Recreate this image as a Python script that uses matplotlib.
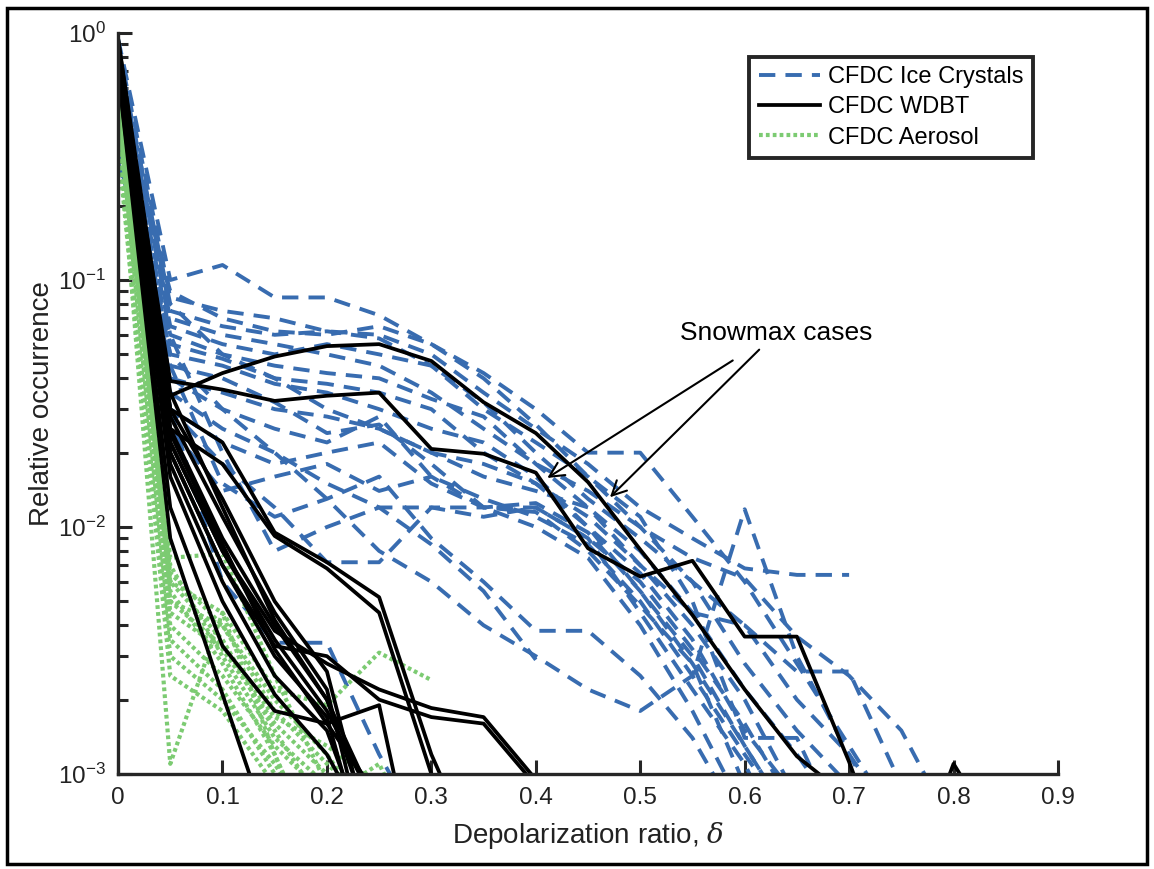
import matplotlib
matplotlib.use("Agg")
import matplotlib.pyplot as plt
from matplotlib.patches import Rectangle
from matplotlib.ticker import LogLocator, NullFormatter

plt.rcParams['font.family'] = ['Liberation Sans', 'DejaVu Sans']
plt.rcParams['mathtext.fontset'] = 'custom'
plt.rcParams['mathtext.rm'] = 'Liberation Sans'
plt.rcParams['mathtext.it'] = 'DejaVu Serif:italic'

# depolarization ratio bins (0, 0.05, 0.1, ...)
delta_bins = [0.0, 0.05, 0.1, 0.15, 0.2, 0.25, 0.3, 0.35, 0.4, 0.45,
              0.5, 0.55, 0.6, 0.65, 0.7, 0.75, 0.8, 0.85]

# CFDC ice crystal cases
ice_crystals = [
    [0.95, 0.1, 0.115, 0.085, 0.085, 0.072, 0.055, 0.042, 0.03, 0.02, 0.02, 0.011, 0.006, 0.0028, 0.0013, 0.0006],
    [0.9, 0.085, 0.075, 0.07, 0.062, 0.06, 0.05, 0.035, 0.025, 0.018, 0.012, 0.009, 0.0068, 0.0064, 0.0064],
    [0.85, 0.075, 0.065, 0.06, 0.062, 0.058, 0.045, 0.03, 0.022, 0.016, 0.01, 0.006, 0.004, 0.002, 0.0012, 0.0006],
    [0.8, 0.065, 0.055, 0.05, 0.055, 0.05, 0.045, 0.032, 0.02, 0.013, 0.009, 0.006, 0.0028, 0.0015, 0.0009],
    [0.7, 0.06, 0.05, 0.045, 0.042, 0.04, 0.033, 0.028, 0.018, 0.012, 0.008, 0.0045, 0.0022, 0.0012, 0.0006],
    [0.6, 0.05, 0.045, 0.038, 0.035, 0.03, 0.025, 0.022, 0.016, 0.01, 0.0065, 0.0035, 0.0015, 0.0008],
    [0.5, 0.045, 0.04, 0.032, 0.024, 0.026, 0.018, 0.012, 0.012, 0.009, 0.006, 0.0032, 0.0016, 0.0007],
    [0.45, 0.04, 0.03, 0.025, 0.022, 0.028, 0.016, 0.013, 0.011, 0.0085, 0.005, 0.0025, 0.0012, 0.0006],
    [0.4, 0.035, 0.025, 0.02, 0.015, 0.012, 0.012, 0.011, 0.012, 0.009, 0.0045, 0.0022, 0.0011, 0.0004],
    [0.35, 0.03, 0.018, 0.012, 0.0072, 0.0072, 0.012, 0.012, 0.0125, 0.0095, 0.0055, 0.003, 0.0013, 0.0006],
    [0.3, 0.06, 0.02, 0.008, 0.01, 0.012, 0.0085, 0.0055, 0.0029],
    [0.4, 0.045, 0.015, 0.011, 0.013, 0.016, 0.009, 0.006, 0.0038, 0.0038, 0.0025, 0.0014, 0.0006],
    [0.55, 0.03, 0.006, 0.0034, 0.0034, 0.0012, 0.0005],
    [0.5, 0.05, 0.03, 0.02, 0.013, 0.008, 0.006, 0.004, 0.003, 0.0022, 0.0018, 0.0025, 0.0118, 0.003, 0.0012, 0.0005],
    [0.75, 0.07, 0.06, 0.055, 0.05, 0.045, 0.035, 0.025, 0.018, 0.014, 0.01, 0.0075, 0.0062, 0.0036, 0.0025, 0.0015, 0.0006],
    [0.65, 0.055, 0.048, 0.04, 0.038, 0.035, 0.03, 0.02, 0.015, 0.011, 0.007, 0.0045, 0.004, 0.0026, 0.0026, 0.0009],
    [0.55, 0.09, 0.07, 0.062, 0.06, 0.065, 0.055, 0.04, 0.026, 0.016, 0.011, 0.005, 0.0014, 0.0014, 0.0005],
    [0.45, 0.04, 0.035, 0.03, 0.028, 0.025, 0.02, 0.016, 0.014, 0.012, 0.007, 0.004, 0.002, 0.0008],
    [0.6, 0.03, 0.022, 0.018, 0.02, 0.022, 0.015, 0.012, 0.0115, 0.008, 0.0048, 0.0028, 0.0009],
    [0.35, 0.025, 0.014, 0.016, 0.018, 0.014, 0.016, 0.012, 0.01, 0.0075, 0.004, 0.0018, 0.0007],
    [0.8, 0.08, 0.05, 0.04, 0.03, 0.025, 0.02, 0.018, 0.015, 0.01, 0.0055, 0.0028, 0.0013, 0.0006],
]

# CFDC warm/dry bath tests
wdbt = [
    [0.9, 0.034, 0.042, 0.049, 0.054, 0.055, 0.047, 0.032, 0.024, 0.0152, 0.0081, 0.0044, 0.0022, 0.00118, 0.0008],
    [0.8, 0.039, 0.036, 0.0324, 0.034, 0.035, 0.0207, 0.0198, 0.0166, 0.0082, 0.0063, 0.0073, 0.0036, 0.0036, 0.00112, 0.0003, 0.0011, 0.0005],
    [0.7, 0.009, 0.0021, 0.0005],
    [0.7, 0.012, 0.0033, 0.0018, 0.0016, 0.0019, 0.0002],
    [0.85, 0.03, 0.022, 0.0095, 0.0072, 0.0052, 0.0012, 0.0004],
    [0.85, 0.025, 0.018, 0.0092, 0.0068, 0.0045, 0.0010, 0.0004],
    [0.8, 0.022, 0.008, 0.0038, 0.0028, 0.0022, 0.00185, 0.0017, 0.00095],
    [0.8, 0.02, 0.007, 0.0033, 0.0030, 0.0020, 0.0017, 0.0016, 0.0009],
    [0.95, 0.03, 0.013, 0.005, 0.0026, 0.0004],
    [0.9, 0.028, 0.011, 0.0045, 0.0022, 0.0003],
    [0.85, 0.025, 0.009, 0.004, 0.002, 0.0005],
    [0.9, 0.022, 0.008, 0.0035, 0.0018, 0.0007],
    [0.8, 0.02, 0.007, 0.003, 0.0017, 0.0003],
    [0.85, 0.018, 0.006, 0.0025, 0.0015, 0.0004],
    [0.9, 0.024, 0.0085, 0.0032, 0.0016, 0.0008],
    [0.75, 0.016, 0.005, 0.0021, 0.0012, 0.0005],
    [0.95, 0.035, 0.012, 0.0042, 0.002, 0.0007],
]

# CFDC aerosol cases
aerosol = [
    [0.55, 0.0075, 0.0078, 0.0025, 0.0009],
    [0.45, 0.0011, 0.0045, 0.0012, 0.0004],
    [0.6, 0.006, 0.0045, 0.0022, 0.0019, 0.0031, 0.0024],
    [0.5, 0.005, 0.004, 0.002, 0.0012, 0.0006],
    [0.7, 0.006, 0.0035, 0.0015, 0.0007],
    [0.65, 0.0045, 0.0032, 0.0016, 0.001, 0.0005],
    [0.55, 0.0055, 0.0028, 0.0012, 0.0004],
    [0.6, 0.004, 0.0025, 0.0013, 0.0008, 0.0011, 0.0004],
    [0.5, 0.0035, 0.0022, 0.001, 0.0004],
    [0.4, 0.003, 0.002, 0.0011, 0.0005],
    [0.45, 0.007, 0.003, 0.0014, 0.0009, 0.0005],
    [0.35, 0.0025, 0.0018, 0.0009, 0.0003],
    [0.5, 0.0065, 0.004, 0.0018, 0.0011, 0.0007],
    [0.6, 0.005, 0.0033, 0.0017, 0.0013, 0.0009],
]

BLUE = '#386cb0'
GREEN = '#7ccb72'

fig = plt.figure(figsize=(11.54, 8.69), dpi=100)
ax = fig.add_axes([0.1023, 0.1093, 0.8145, 0.8527])

for i, yv in enumerate(ice_crystals):
    ax.plot(delta_bins[:len(yv)], yv, color=BLUE, lw=2.8, dashes=(4.2, 2.6),
            label='CFDC Ice Crystals' if i == 0 else '_nolegend_')
for i, yv in enumerate(aerosol):
    ax.plot(delta_bins[:len(yv)], yv, color=GREEN, lw=3.0, dashes=(0.9, 0.75),
            label='CFDC Aerosol' if i == 0 else '_nolegend_')
for i, yv in enumerate(wdbt):
    ax.plot(delta_bins[:len(yv)], yv, color='black', lw=2.7,
            label='CFDC WDBT' if i == 0 else '_nolegend_')

ax.set_yscale('log')
ax.set_xlim(0, 0.9)
ax.set_ylim(1e-3, 1)
ax.set_xticks([0, 0.1, 0.2, 0.3, 0.4, 0.5, 0.6, 0.7, 0.8, 0.9])
ax.set_xticklabels(['0', '0.1', '0.2', '0.3', '0.4', '0.5', '0.6', '0.7', '0.8', '0.9'])
ax.yaxis.set_minor_locator(LogLocator(base=10, subs=range(2, 10)))
ax.yaxis.set_minor_formatter(NullFormatter())
for s in ['top', 'right']:
    ax.spines[s].set_visible(False)
for s in ['left', 'bottom']:
    ax.spines[s].set_linewidth(2.4)
    ax.spines[s].set_color('#262626')
ax.tick_params(which='major', direction='in', length=10, width=2.2, colors='#262626',
               labelsize=17.5, labelcolor='#222222', pad=9)
ax.tick_params(which='minor', direction='in', length=7, width=2.2, colors='#262626')

ax.set_xlabel(r'Depolarization ratio, $\delta$', fontsize=20, labelpad=8, color='#222222')
ax.set_ylabel('Relative occurrence', fontsize=20, labelpad=2, color='#222222')

h, l = ax.get_legend_handles_labels()
order = [l.index('CFDC Ice Crystals'), l.index('CFDC WDBT'), l.index('CFDC Aerosol')]
leg = ax.legend([h[k] for k in order], [l[k] for k in order], loc='upper left',
                bbox_to_anchor=(0.659, 0.984), fontsize=17, handlelength=2.6,
                handletextpad=0.35, labelspacing=0.35, borderpad=0.4,
                fancybox=False, framealpha=1)
leg.get_frame().set_edgecolor('#262626')
leg.get_frame().set_linewidth(2.8)

# Snowmax annotation
ax.annotate('Snowmax cases', xy=(0.411, 0.0158), xytext=(0.630, 0.061),
            fontsize=19, ha='center', va='center',
            arrowprops=dict(arrowstyle='->', color='black', lw=1.5,
                            mutation_scale=26, shrinkA=17, shrinkB=0))
ax.annotate('', xy=(0.471, 0.0132), xytext=(0.630, 0.061),
            arrowprops=dict(arrowstyle='->', color='black', lw=1.5,
                            mutation_scale=26, shrinkA=17, shrinkB=0))

fig.patches.append(Rectangle((0.006, 0.006), 0.988, 0.985, transform=fig.transFigure,
                             fill=False, edgecolor='black', lw=2.5))

fig.savefig('out.png', dpi=100)
